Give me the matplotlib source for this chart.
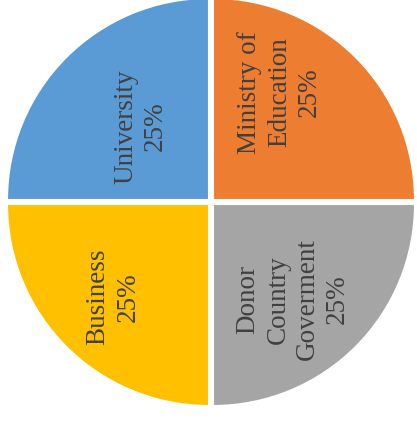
import matplotlib.pyplot as plt
import numpy as np

# data
labels = ["Ministry of\nEducation", "Donor\nCountry\nGoverment", "Business", "University"]
shares = [25, 25, 25, 25]
colors = ["#ED7D31", "#A5A5A5", "#FFC000", "#5B9BD5"]

# label placement (angle in degrees, distance as fraction of radius)
label_angles = [58, 310, 224, 133]
label_dists = [0.64, 0.63, 0.675, 0.51]

W, H = 417, 426
fig = plt.figure(figsize=(W / 100, H / 100), dpi=100)
cx, cy, r = 211, 202, 202
ax = fig.add_axes([(cx - r) / W, (H - cy - r) / H, 2 * r / W, 2 * r / H])

wedges, _ = ax.pie(shares, colors=colors, startangle=90, counterclock=False,
                   explode=[0.014] * 4,
                   wedgeprops=dict(edgecolor="white", linewidth=1.5))
ax.set_xlim(-1, 1)
ax.set_ylim(-1, 1)
ax.set_aspect("equal")
ax.axis("off")

for lab, val, ang, d in zip(labels, shares, label_angles, label_dists):
    a = np.deg2rad(ang)
    ax.text(d * np.cos(a), d * np.sin(a), f"{lab}\n{val}%", rotation=90,
            ha="center", va="center", multialignment="center",
            fontsize=19.5, family="Liberation Serif", color="#404040",
            linespacing=1.25)

fig.savefig("out.png", dpi=100)
